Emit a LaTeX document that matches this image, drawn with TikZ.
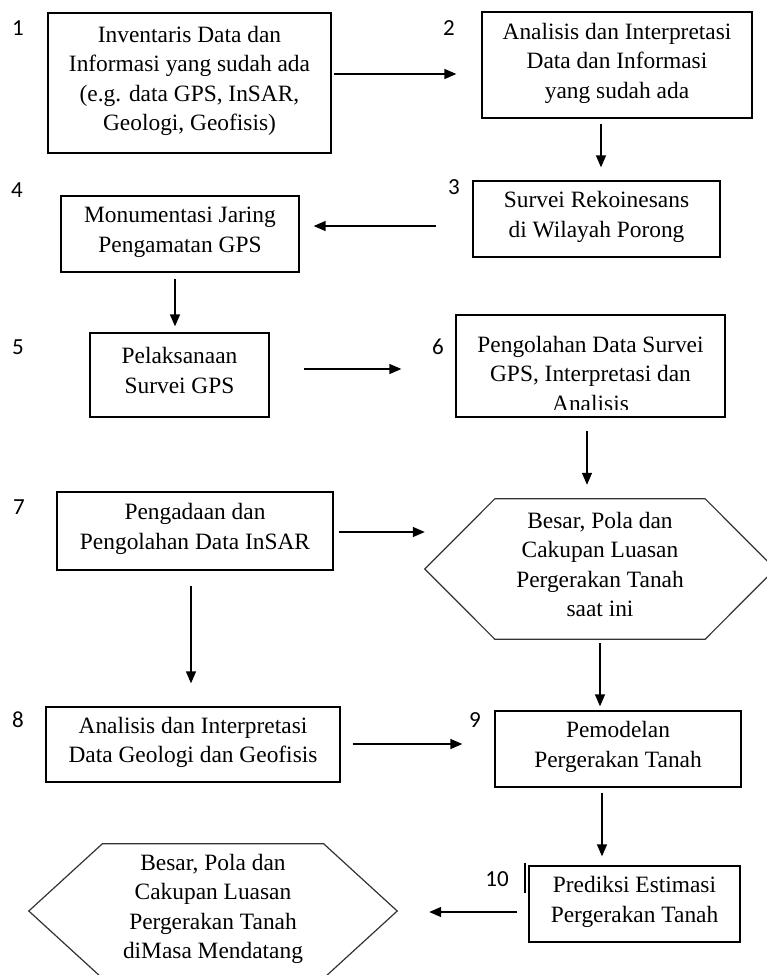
\documentclass[tikz,border=0pt]{standalone}
\usepackage{fontspec}
\setmainfont{Liberation Serif}
\newfontfamily\numfont{Carlito}
\usetikzlibrary{arrows.meta,calc}
\newcommand\boxfont{\fontsize{23.4}{29.5}\selectfont}
\begin{document}
\begin{tikzpicture}[x=1pt,y=-1pt,
  every node/.style={inner sep=0pt},
  box/.style={draw,line width=1.3pt,align=center,font=\boxfont,
    execute at begin node=\strut,execute at end node=\strut},
  hexlbl/.style={align=center,font=\boxfont,
    execute at begin node=\strut,execute at end node=\strut},
  hexline/.style={draw=black!80,line width=1.2pt,line join=miter},
  num/.style={font=\numfont\fontsize{23}{27}\selectfont},
  arr/.style={line width=1.4pt,-{Triangle[length=12pt,width=10pt]}}
]
\useasboundingbox (0,0) rectangle (767,975);
\fill[white] (0,0) rectangle (767,975);

% boxes
\node[box,minimum width=283,minimum height=140] (b1) at (189.5,83)
  {Inventaris Data dan\\Informasi yang sudah ada\\(e.g. data GPS, InSAR,\\Geologi, Geofisis)};
\node[box,minimum width=270,minimum height=106] (b2) at (617,65)
  {Analisis dan Interpretasi\\Data dan Informasi\\yang sudah ada};
\node[box,minimum width=247,minimum height=76] (b3) at (596.5,219)
  {Survei Rekoinesans\\di Wilayah Porong};
\node[box,minimum width=238,minimum height=76] (b4) at (180,234)
  {Monumentasi Jaring\\Pengamatan GPS};
\node[box,minimum width=179,minimum height=84] (b5) at (179.5,375)
  {Pelaksanaan\\Survei GPS};
\node[box,minimum width=269,minimum height=102] (b6) at (590.5,366) {};
\begin{scope}
  \clip (457,317) rectangle (724,409);
  \node[hexlbl] (t6) at (590.5,378)
    {Pengolahan Data Survei\\GPS, Interpretasi dan\\Analisis};
\end{scope}
\node[box,minimum width=276,minimum height=78] (b7) at (195,531)
  {Pengadaan dan\\Pengolahan Data InSAR};
\node[box,minimum width=294,minimum height=75] (b8) at (193,744.5)
  {Analisis dan Interpretasi\\Data Geologi dan Geofisis};
\node[box,minimum width=246,minimum height=76] (b9) at (618,749)
  {Pemodelan\\Pergerakan Tanah};
\node[box,minimum width=211,minimum height=76] (b10) at (634.5,904)
  {Prediksi Estimasi\\Pergerakan Tanah};

% hexagons
\node[hexlbl,minimum width=210,minimum height=140] (h1) at (600,569)
  {Besar, Pola dan\\Cakupan Luasan\\Pergerakan Tanah\\saat ini};
\coordinate (h1w) at ($(h1.west)+(-70,0)$);
\coordinate (h1e) at ($(h1.east)+(70,0)$);
\draw[hexline] (h1.north west) -- (h1.north east) -- (h1e) -- (h1.south east)
  -- (h1.south west) -- (h1w) -- cycle;

\node[hexlbl,minimum width=221,minimum height=134] (h2) at (213,911)
  {Besar, Pola dan\\Cakupan Luasan\\Pergerakan Tanah\\diMasa Mendatang};
\coordinate (h2w) at ($(h2.west)+(-73.5,0)$);
\coordinate (h2e) at ($(h2.east)+(73.5,0)$);
\draw[hexline] (h2.north west) -- (h2.north east) -- (h2e) -- (h2.south east)
  -- (h2.south west) -- (h2w) -- cycle;

% step numbers
\node[num] (n1) at (18,28) {1};
\node[num] (n2) at (449,28) {2};
\node[num] (n3) at (454,187) {3};
\node[num] (n4) at (17,190) {4};
\node[num] (n5) at (18,347) {5};
\node[num] (n6) at (438,347) {6};
\node[num] (n7) at (19,507) {7};
\node[num] (n8) at (18,720) {8};
\node[num] (n9) at (475,720) {9};
\node[num] (n10) at (497,879) {10};
\draw[line width=1.3pt] (525,863) -- (525,893);

% connectors
\draw[arr] ($(b1.east)+(2,-9)$) -- ($(b2.west)+(-25,9)$);
\draw[arr] ($(b2.south)+(-16,5)$) -- ($(b3.north)+(4.5,-13)$);
\draw[arr] ($(b3.west)+(-36,7)$) -- ($(b4.east)+(14,-8)$);
\draw[arr] ($(b4.south)+(-5,6)$) -- ($(b5.north)+(-4.5,-6)$);
\draw[arr] ($(b5.east)+(34,-6)$) -- ($(b6.west)+(-54,3)$);
\draw[arr] ($(b6.south)+(-3.5,13)$) -- ($(h1.north)+(-13,-14)$);
\draw[arr] ($(b7.east)+(5,1)$) -- ($(h1w)+(0,-37)$);
\draw[arr] ($(b7.south)+(-4,15)$) -- ($(b8.north)+(-2,-23)$);
\draw[arr] ($(h1.south)+(0,4)$) -- ($(b9.north)+(-18,-4)$);
\draw[arr] ($(b8.east)+(12,-0.5)$) -- ($(b9.west)+(-32,-5)$);
\draw[arr] ($(b9.south)+(-16,5)$) -- ($(b10.north)+(-32.5,-9)$);
\draw[arr] ($(b10.west)+(-11,8)$) -- ($(h2e)+(32,1)$);
\end{tikzpicture}
\end{document}
